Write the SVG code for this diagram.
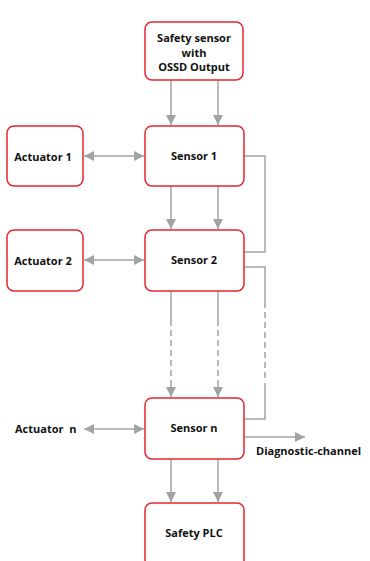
<svg xmlns="http://www.w3.org/2000/svg" width="370" height="561" viewBox="0 0 370 561">
<defs>
<marker id="ah" viewBox="0 0 10 10" refX="10" refY="5" markerWidth="10" markerHeight="10" markerUnits="userSpaceOnUse" orient="auto-start-reverse">
<path d="M0,0 L10,5 L0,10 z" fill="#a3a3a3"/>
</marker>
<style>
.box{fill:#fff;stroke:#e3262f;stroke-width:1.5}
.t{font-family:"Open Sans","Liberation Sans",sans-serif;font-weight:bold;font-size:11px;fill:#111;text-anchor:middle}
.tl{font-family:"Open Sans","Liberation Sans",sans-serif;font-weight:bold;font-size:11px;fill:#111}
.ln{fill:none;stroke:#a3a3a3;stroke-width:1.5}
.dash{fill:none;stroke:#a3a3a3;stroke-width:1.5;stroke-dasharray:6,4}
</style>
</defs>
<rect width="370" height="561" fill="#fff"/>
<g id="connectors">
<line class="ln" x1="171" y1="80" x2="171" y2="125" marker-end="url(#ah)"/>
<line class="ln" x1="218" y1="80" x2="218" y2="125" marker-end="url(#ah)"/>
<line class="ln" x1="84" y1="156" x2="144" y2="156" marker-start="url(#ah)" marker-end="url(#ah)"/>
<line class="ln" x1="171" y1="186" x2="171" y2="229" marker-end="url(#ah)"/>
<line class="ln" x1="218" y1="186" x2="218" y2="229" marker-end="url(#ah)"/>
<polyline class="ln" points="244,156 265,156 265,252 244,252"/>
<line class="ln" x1="84" y1="260" x2="144" y2="260" marker-start="url(#ah)" marker-end="url(#ah)"/>
<line class="ln" x1="171" y1="291" x2="171" y2="326"/>
<line class="dash" x1="171" y1="330" x2="171" y2="384"/>
<line class="ln" x1="171" y1="384" x2="171" y2="397" marker-end="url(#ah)"/>
<line class="ln" x1="218" y1="291" x2="218" y2="326"/>
<line class="dash" x1="218" y1="330" x2="218" y2="384"/>
<line class="ln" x1="218" y1="384" x2="218" y2="397" marker-end="url(#ah)"/>
<polyline class="ln" points="244,267 265,267 265,308"/>
<line class="dash" x1="265" y1="312" x2="265" y2="382"/>
<polyline class="ln" points="265,383 265,419 244,419"/>
<line class="ln" x1="84" y1="429" x2="144" y2="429" marker-start="url(#ah)" marker-end="url(#ah)"/>
<line class="ln" x1="244" y1="437" x2="305" y2="437" marker-end="url(#ah)"/>
<line class="ln" x1="171" y1="459" x2="171" y2="502" marker-end="url(#ah)"/>
<line class="ln" x1="218" y1="459" x2="218" y2="502" marker-end="url(#ah)"/>
</g>
<g id="safety-sensor">
<rect class="box" x="145" y="22" width="98" height="58" rx="7"/>
<text class="t" x="194" y="42">Safety sensor</text>
<text class="t" x="194" y="57">with</text>
<text class="t" x="194" y="71">OSSD Output</text>
</g>
<g id="sensor1">
<rect class="box" x="145" y="126" width="99" height="60" rx="7"/>
<text class="t" x="194" y="160">Sensor 1</text>
</g>
<g id="actuator1">
<rect class="box" x="7" y="126" width="76" height="60" rx="7"/>
<text class="t" x="43" y="161">Actuator 1</text>
</g>
<g id="sensor2">
<rect class="box" x="145" y="230" width="99" height="61" rx="7"/>
<text class="t" x="194" y="264">Sensor 2</text>
</g>
<g id="actuator2">
<rect class="box" x="7" y="230" width="76" height="61" rx="7"/>
<text class="t" x="43" y="265">Actuator 2</text>
</g>
<g id="sensorn">
<rect class="box" x="145" y="398" width="99" height="61" rx="7"/>
<text class="t" x="194" y="432">Sensor n</text>
</g>
<g id="actuatorn">
<text class="tl" x="15" y="433" xml:space="preserve">Actuator  n</text>
</g>
<g id="diagnostic">
<text class="tl" x="256" y="455">Diagnostic-channel</text>
</g>
<g id="safety-plc">
<rect class="box" x="145" y="503" width="99" height="64" rx="7"/>
<text class="t" x="194" y="537">Safety PLC</text>
</g>
</svg>
